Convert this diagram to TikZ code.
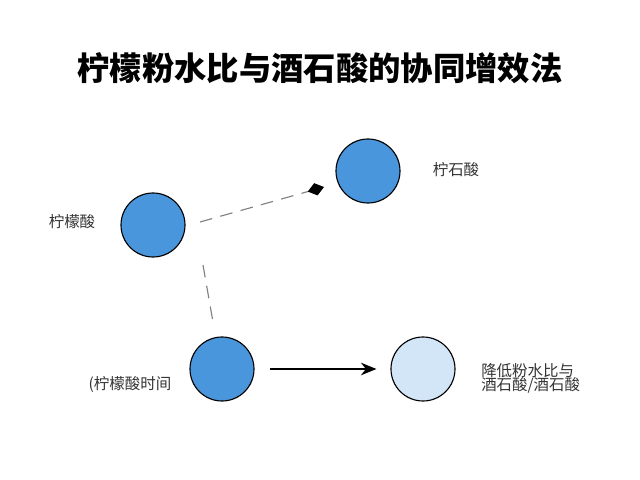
\documentclass[tikz,border=0pt]{standalone}
\usepackage{fontspec}
\setmainfont{Noto Sans CJK SC}
\usetikzlibrary{positioning,arrows.meta}

\begin{document}
\begin{tikzpicture}[x=0.025cm,y=-0.025cm,thick,
  ball/.style={circle,draw=black,fill={rgb,255:red,74;green,150;blue,220},minimum size=1.6cm,inner sep=0pt},
  lightball/.style={ball,fill={rgb,255:red,210;green,230;blue,248}},
  lbl/.style={font=\fontsize{11}{13}\selectfont,text=black!80,align=left},
  graydash/.style={gray,dash pattern=on 9pt off 6pt}]

	      \useasboundingbox (0,0) rectangle (640,480);
	      \node[font=\bfseries\fontsize{23}{26}\selectfont] at (320,68) (title) {柠檬粉水比与酒石酸的协同增效法};

	      \node[ball] at (153,225) (cit) {};
	      \node[ball] at (368,171) (tar) {};
	      \node[ball] at (222,369) (time) {};
	      \node[lightball] at (423,369) (low) {};

	      \node[lbl] at (72,222) (citl) {柠檬酸};
	      \node[lbl] at (456,170) (tarl) {柠石酸};
	      \node[lbl] at (130,385) (timel) {(柠檬酸时间};
	      \node[lbl,anchor=west] at (476,378) (lowl) {降低粉水比与\\[-3pt]酒石酸/酒石酸};

	      \coordinate (p1) at (200,222);
	      \coordinate (p2) at (324,187);
	      \coordinate (p3) at (203,265);
	      \coordinate (p4) at (213,322);

	      \draw[graydash,-{Diamond[black,length=12pt,width=9pt]}] (p1) -- (p2);
	      \draw[graydash] (p3) -- (p4);
	      \draw[-{Stealth[length=11pt,width=9pt]}] ([xshift=11pt]time.east) -- ([xshift=-10pt]low.west);

	    \end{tikzpicture}
\end{document}
